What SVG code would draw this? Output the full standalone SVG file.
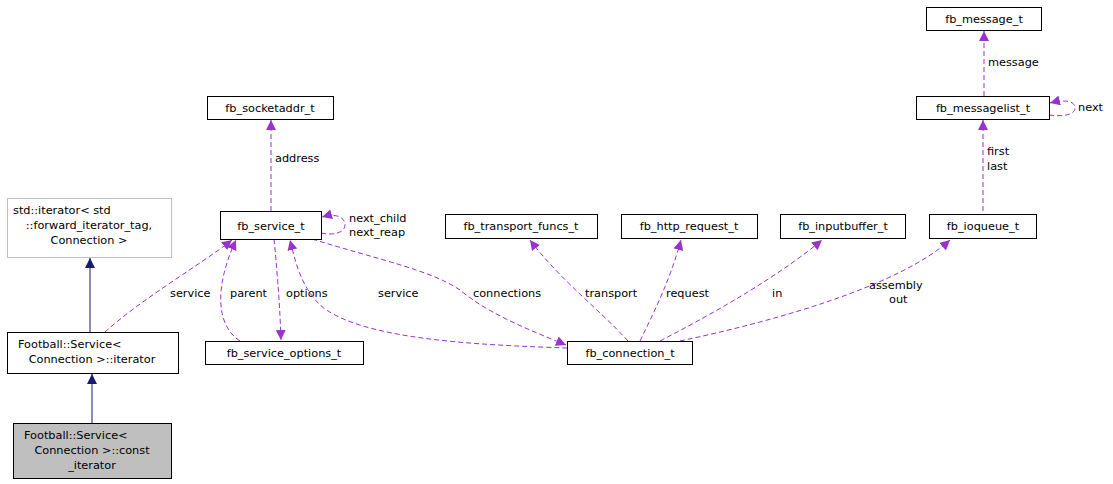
<svg xmlns="http://www.w3.org/2000/svg" width="1113" height="484" viewBox="0 0 1113 484">
<style>
text{font-family:"DejaVu Sans","Liberation Sans",sans-serif;font-size:11.3px;fill:#000}
.b{fill:#fff;stroke:#000;stroke-width:1}
.g{fill:#fff;stroke:#bfbfbf;stroke-width:1}
.c{fill:none;stroke:#9a32cd;stroke-width:1;stroke-dasharray:5,3}
.i{fill:none;stroke:#191970;stroke-width:1}
</style>
<defs>
<marker id="p" viewBox="0 0 10 10" refX="10" refY="5" markerWidth="10" markerHeight="10" markerUnits="userSpaceOnUse" orient="auto"><path d="M0,0L10,5L0,10z" fill="#9a32cd"/></marker>
<marker id="n" viewBox="0 0 10 10" refX="10" refY="5" markerWidth="10" markerHeight="10" markerUnits="userSpaceOnUse" orient="auto"><path d="M0,0L10,5L0,10z" fill="#191970"/></marker>
</defs>
<rect width="1113" height="484" fill="#fff"/>
<g id="edges">
<path class="i" d="M90,332V258" marker-end="url(#n)"/>
<path class="i" d="M92,423V374" marker-end="url(#n)"/>
<path class="c" d="M271,211V120" marker-end="url(#p)"/>
<text x="275" y="162">address</text>
<path class="c" d="M984,96V31" marker-end="url(#p)"/>
<text x="988" y="66">message</text>
<path class="c" d="M1049,115C1062,117 1075,115 1075,108C1075,101 1065,99 1050,103" marker-end="url(#p)"/>
<text x="1078" y="111">next</text>
<path class="c" d="M983,211V120" marker-end="url(#p)"/>
<text x="987" y="155">first</text><text x="987" y="170">last</text>
<path class="c" d="M321,233C335,236 345,232 345,225C345,217 336,213 322,217" marker-end="url(#p)"/>
<text x="349" y="222">next_child</text><text x="349" y="236">next_reap</text>
<path class="c" d="M105,332C140,300 200,265 232,240" marker-end="url(#p)"/>
<text x="170" y="297">service</text>
<path class="c" d="M240,341C215,325 215,285 236,240" marker-end="url(#p)"/>
<text x="230" y="297">parent</text>
<path class="c" d="M274,239C278,280 280,310 281,340" marker-end="url(#p)"/>
<text x="286" y="297">options</text>
<path class="c" d="M567,348C480,345 360,340 320,305C300,285 295,260 290,240" marker-end="url(#p)"/>
<text x="378" y="297">service</text>
<path class="c" d="M312,239C380,260 430,270 460,290C490,315 530,330 566,345" marker-end="url(#p)"/>
<text x="473" y="297">connections</text>
<path class="c" d="M628,341C600,310 560,280 530,240" marker-end="url(#p)"/>
<text x="585" y="297">transport</text>
<path class="c" d="M640,341C655,310 670,280 681,240" marker-end="url(#p)"/>
<text x="666" y="297">request</text>
<path class="c" d="M660,341C720,310 780,275 822,240" marker-end="url(#p)"/>
<text x="772" y="297">in</text>
<path class="c" d="M680,341C780,320 900,285 950,240" marker-end="url(#p)"/>
<text x="869" y="289">assembly</text><text x="889" y="303">out</text>
</g>
<g id="fb_message_t"><rect class="b" x="926.5" y="7.5" width="115" height="23"/><text x="984" y="23" text-anchor="middle">fb_message_t</text></g>
<g id="fb_messagelist_t"><rect class="b" x="916.5" y="96.5" width="133" height="23"/><text x="983" y="112" text-anchor="middle">fb_messagelist_t</text></g>
<g id="fb_socketaddr_t"><rect class="b" x="207.5" y="96.5" width="126" height="23"/><text x="270" y="112" text-anchor="middle">fb_socketaddr_t</text></g>
<g id="std_iterator"><rect class="g" x="7.5" y="198.5" width="164" height="59"/><text x="13" y="214">std::iterator&lt; std</text><text x="89" y="229" text-anchor="middle">::forward_iterator_tag,</text><text x="89" y="244" text-anchor="middle">Connection &gt;</text></g>
<g id="fb_service_t"><rect class="b" x="220.5" y="211.5" width="101" height="28"/><text x="271" y="230" text-anchor="middle">fb_service_t</text></g>
<g id="fb_transport_funcs_t"><rect class="b" x="445.5" y="214.5" width="152" height="24"/><text x="521" y="230" text-anchor="middle">fb_transport_funcs_t</text></g>
<g id="fb_http_request_t"><rect class="b" x="621.5" y="214.5" width="136" height="24"/><text x="689" y="230" text-anchor="middle">fb_http_request_t</text></g>
<g id="fb_inputbuffer_t"><rect class="b" x="780.5" y="214.5" width="125" height="24"/><text x="843" y="230" text-anchor="middle">fb_inputbuffer_t</text></g>
<g id="fb_ioqueue_t"><rect class="b" x="929.5" y="214.5" width="107" height="24"/><text x="983" y="230" text-anchor="middle">fb_ioqueue_t</text></g>
<g id="iterator"><rect class="b" x="7.5" y="332.5" width="171" height="41"/><text x="18" y="348">Football::Service&lt;</text><text x="92" y="363" text-anchor="middle">Connection &gt;::iterator</text></g>
<g id="fb_service_options_t"><rect class="b" x="205.5" y="341.5" width="158" height="23"/><text x="284" y="357" text-anchor="middle">fb_service_options_t</text></g>
<g id="fb_connection_t"><rect class="b" x="567.5" y="341.5" width="125" height="23"/><text x="630" y="357" text-anchor="middle">fb_connection_t</text></g>
<g id="const_iterator"><rect x="13.5" y="423.5" width="158" height="55" fill="#bfbfbf" stroke="#000"/><text x="24" y="439">Football::Service&lt;</text><text x="92" y="454" text-anchor="middle">Connection &gt;::const</text><text x="92" y="469" text-anchor="middle">_iterator</text></g>
</svg>
